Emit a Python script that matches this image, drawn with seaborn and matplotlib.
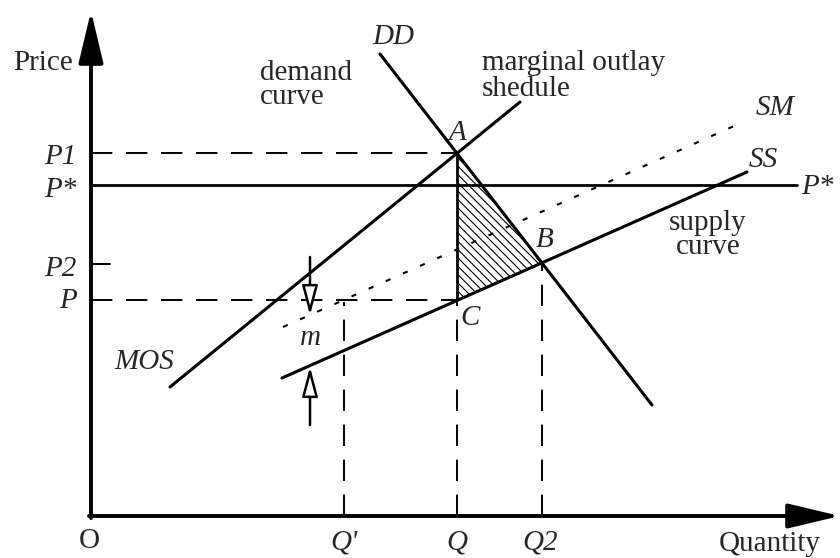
import matplotlib
matplotlib.use("Agg")
import matplotlib.pyplot as plt
import seaborn as sns
import pandas as pd

# curve end points (quantity, price)
dd_q = [289, 561]
dd_p = [462, 111]
mos_q = [79, 429]
mos_p = [129, 414]
ss_q = [191, 656]
ss_p = [138, 344]
sm_q = [192, 652]
sm_p = [189, 394]

# price levels and quantities
p1 = 363
p_star = 331
p2 = 252
p_low = 216
q_prime = 253
q_mid = 366
q2 = 451
p_star_end = 706

# welfare-loss triangle A, B, C
tri_q = [366, 451, 366]
tri_p = [363, 253, 216]

# the m gap arrows
m_q = 219
m_top = [259, 201]
m_bottom = [91, 149]

sns.set_style("white")
plt.rcParams["font.family"] = ["Liberation Serif", "DejaVu Serif"]
plt.rcParams["hatch.linewidth"] = 0.8

fig = plt.figure(figsize=(8.4, 5.58), dpi=100)
ax = fig.add_axes([0, 0, 1, 1])
ax.set_xlim(-91, 749)
ax.set_ylim(-42, 516)
ax.axis("off")

curves = pd.DataFrame({
    "q": dd_q + mos_q + ss_q,
    "p": dd_p + mos_p + ss_p,
    "curve": ["DD"] * 2 + ["MOS"] * 2 + ["SS"] * 2,
})
for name, d in curves.groupby("curve"):
    sns.lineplot(data=d, x="q", y="p", ax=ax, color="black", lw=2.2,
                 estimator=None, sort=False)

sns.lineplot(x=sm_q, y=sm_p, ax=ax, color="black", lw=1.5,
             linestyle=(0, (2.5, 6.5)), estimator=None, sort=False)

# P* line
sns.lineplot(x=[0, p_star_end], y=[p_star, p_star], ax=ax, color="black",
             lw=2, estimator=None, sort=False)

# dashed guide lines
dash = (0, (11, 7))
guides = [
    ([0, q_mid], [p1, p1]),
    ([0, q_mid], [p_low, p_low]),
    ([q_prime, q_prime], [0, p_low - 2]),
    ([q_mid, q_mid], [0, p_low]),
    ([q2, q2], [0, p2]),
]
for gx, gy in guides:
    sns.lineplot(x=gx, y=gy, ax=ax, color="black", lw=1.4, linestyle=dash,
                 estimator=None, sort=False)

# P2 tick
sns.lineplot(x=[0, 19], y=[p2, p2], ax=ax, color="black", lw=1.4,
             estimator=None, sort=False)

# hatched triangle
ax.fill(tri_q, tri_p, facecolor="none", edgecolor="black", lw=0,
        hatch="\\\\\\\\")
sns.lineplot(x=[q_mid, q_mid], y=[p_low, p1], ax=ax, color="black", lw=2,
             estimator=None, sort=False)

# axes with arrow heads
axis_arrow = dict(arrowstyle="-|>,head_length=1.6,head_width=0.38",
                  color="black", lw=2.8, shrinkA=0, shrinkB=0,
                  mutation_scale=20)
ax.annotate("", xy=(0, 505), xytext=(0, -2), arrowprops=axis_arrow)
ax.annotate("", xy=(749, 0), xytext=(-2, 0), arrowprops=axis_arrow)

# m arrows (hollow heads)
m_arrow = dict(arrowstyle="-|>,head_length=1.2,head_width=0.32",
               fc="white", ec="black", lw=1.8, shrinkA=0, shrinkB=0,
               mutation_scale=15)
ax.annotate("", xy=(m_q, m_top[1]), xytext=(m_q, m_top[0]), arrowprops=m_arrow)
ax.annotate("", xy=(m_q, m_bottom[1]), xytext=(m_q, m_bottom[0]),
            arrowprops=m_arrow)

fs = 21
it = dict(fontsize=fs, style="italic")
# axis labels
ax.text(-48, 453, "Price", fontsize=fs, ha="center", va="center")
ax.text(679, -28, "Quantity", fontsize=fs, ha="center", va="center")
ax.text(-2, -25, "O", fontsize=fs, ha="center", va="center")

ax.text(-14, 359, "P1", ha="right", va="center", **it)
ax.text(-14, 326, "P*", ha="right", va="center", **it)
ax.text(-14, 247, "P2", ha="right", va="center", **it)
ax.text(-14, 215, "P", ha="right", va="center", **it)

ax.text(q_prime, -26, "Q'", ha="center", va="center", **it)
ax.text(q_mid, -26, "Q", ha="center", va="center", **it)
ax.text(q2 - 2, -26, "Q2", ha="center", va="center", **it)

# curve labels
ax.text(302, 479, "DD", ha="center", va="center", **it)
ax.text(684, 408, "SM", ha="center", va="center", **it)
ax.text(672, 356, "SS", ha="center", va="center", **it)
ax.text(726, 329, "P*", ha="center", va="center", **it)
ax.text(53, 154, "MOS", ha="center", va="center", **it)
ax.text(m_q, 178, "m", ha="center", va="center", **it)

ax.text(366, 383, "A", ha="center", va="center", **it)
ax.text(454, 276, "B", ha="center", va="center", **it)
ax.text(379, 198, "C", ha="center", va="center", **it)

ax.text(169, 431, "demand\ncurve", fontsize=fs, ha="left", va="center",
        linespacing=0.95)
ax.text(391, 440, "marginal outlay\nshedule", fontsize=fs, ha="left",
        va="center", linespacing=0.95)
ax.text(617, 281, "supply\ncurve", fontsize=fs, ha="center", va="center",
        linespacing=0.95)

fig.savefig("out.png", dpi=100, facecolor="white")
